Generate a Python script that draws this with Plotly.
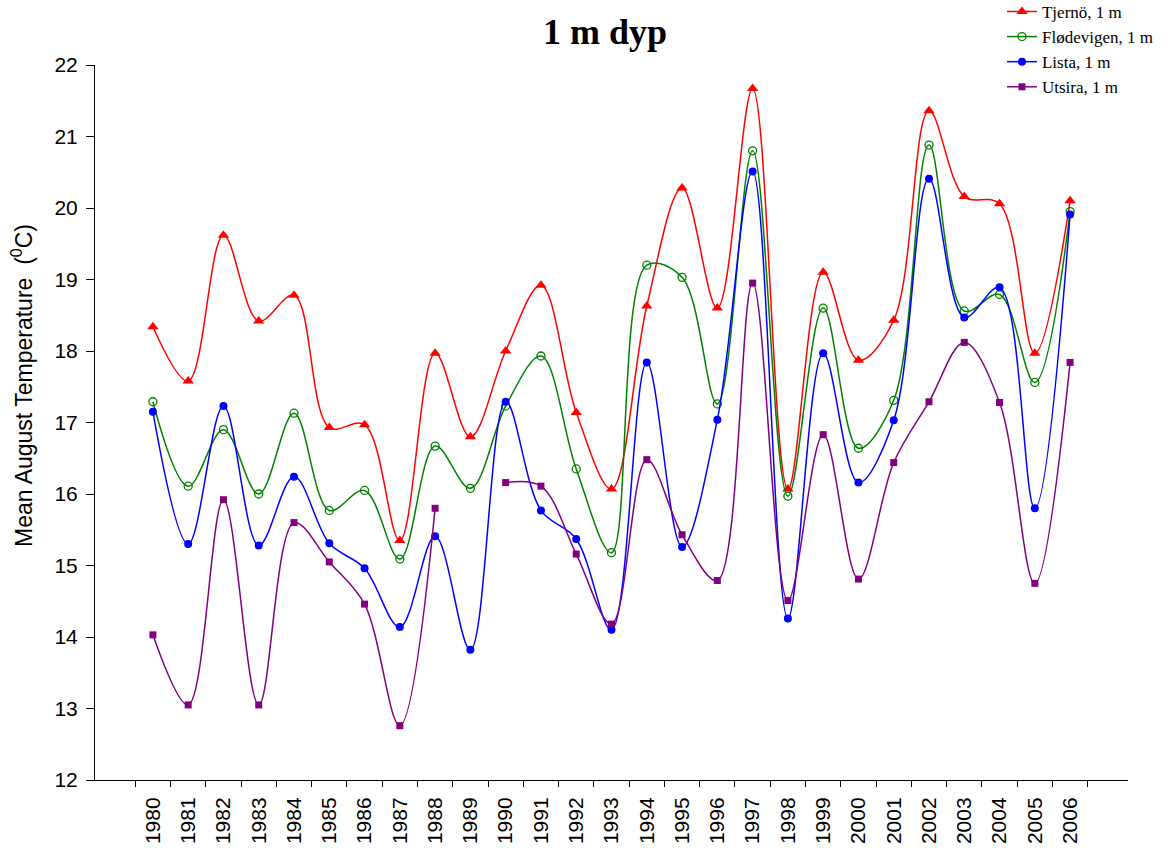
import plotly.graph_objects as go

years = [str(y) for y in range(1980, 2007)]

tjerno = [18.34, 17.58, 19.62, 18.42, 18.78, 16.93, 16.97, 15.35, 17.97, 16.80,
          18.00, 18.92, 17.14, 16.07, 18.63, 20.28, 18.60, 21.67, 16.07, 19.10,
          17.87, 18.43, 21.36, 20.16, 20.06, 17.97, 20.10]
flodevigen = [17.29, 16.11, 16.90, 16.00, 17.13, 15.77, 16.05, 15.09, 16.67, 16.08,
              17.23, 17.93, 16.35, 15.18, 19.20, 19.03, 17.26, 20.80, 15.97, 18.60,
              16.64, 17.31, 20.88, 18.56, 18.79, 17.56, 19.95]
lista = [17.15, 15.30, 17.23, 15.28, 16.24, 15.31, 14.96, 14.14, 15.41, 13.82,
         17.29, 15.77, 15.37, 14.10, 17.84, 15.26, 17.04, 20.51, 14.26, 17.97,
         16.16, 17.03, 20.41, 18.47, 18.89, 15.80, 19.91]
utsira = [14.03, 13.05, 15.92, 13.05, 15.60, 15.05, 14.46, 12.76, 15.80, None,
          16.16, 16.11, 15.16, 14.18, 16.48, 15.43, 14.79, 18.95, 14.51, 16.83,
          14.81, 16.44, 17.29, 18.12, 17.28, 14.75, 17.84]

series = [
    ("Tjernö, 1 m", tjerno, "#ff0000", dict(symbol="triangle-up", size=10)),
    ("Flødevigen, 1 m", flodevigen, "#008000", dict(symbol="circle-open", size=8, line=dict(width=1.3))),
    ("Lista, 1 m", lista, "#0000ff", dict(symbol="circle", size=8)),
    ("Utsira, 1 m", utsira, "#800080", dict(symbol="square", size=7)),
]

fig = go.Figure()
for i, (name, vals, col, mk) in enumerate(series):
    fig.add_trace(go.Scatter(
        x=years, y=vals, name=name, mode="lines+markers",
        line=dict(color=col, width=1.5, shape="spline", smoothing=1.0),
        marker=dict(color=col, **mk),
        connectgaps=False, legendgroup=f"g{i}",
    ))

fig.update_layout(
    width=1168, height=850,
    plot_bgcolor="white", paper_bgcolor="white",
    margin=dict(l=95, r=40, t=65, b=70, autoexpand=False),
    title=dict(text="<b>1 m dyp</b>", x=605 / 1168, xanchor="center", y=1 - 31 / 850, yanchor="middle",
               font=dict(family="Liberation Serif", size=36, color="black")),
    showlegend=True,
    legend=dict(x=0.878, y=1.0994, xanchor="left", yanchor="top",
                font=dict(family="Liberation Serif", size=17, color="black"),
                bgcolor="rgba(0,0,0,0)", tracegroupgap=0),
    font=dict(family="Liberation Sans", color="black"),
    annotations=[dict(
        text="Mean August Temperature  (<sup>0</sup>C)", textangle=-90,
        xref="paper", yref="paper", x=(22 - 95) / 1033, y=(780 - 386) / 715,
        xanchor="center", yanchor="middle", showarrow=False,
        font=dict(family="Liberation Sans", size=23, color="black"),
    )],
)
fig.update_xaxes(
    type="category", showline=True, linecolor="black", linewidth=1,
    ticks="outside", tickson="boundaries", ticklen=6, tickcolor="black",
    tickangle=-90, tickfont=dict(family="Liberation Sans", size=21, color="black"),
    ticklabelstandoff=8,
    showgrid=False, zeroline=False, mirror=False, automargin=False,
)
fig.update_yaxes(
    range=[12, 22], dtick=1, showline=True, linecolor="black", linewidth=1,
    ticks="outside", ticklen=8, tickcolor="black",
    tickfont=dict(family="Liberation Sans", size=21, color="black"),
    ticklabelstandoff=4,
    showgrid=False, zeroline=False, automargin=False,
)

fig.write_html("out.html", config={"displayModeBar": False},
               post_script="document.body.style.margin='0';")
